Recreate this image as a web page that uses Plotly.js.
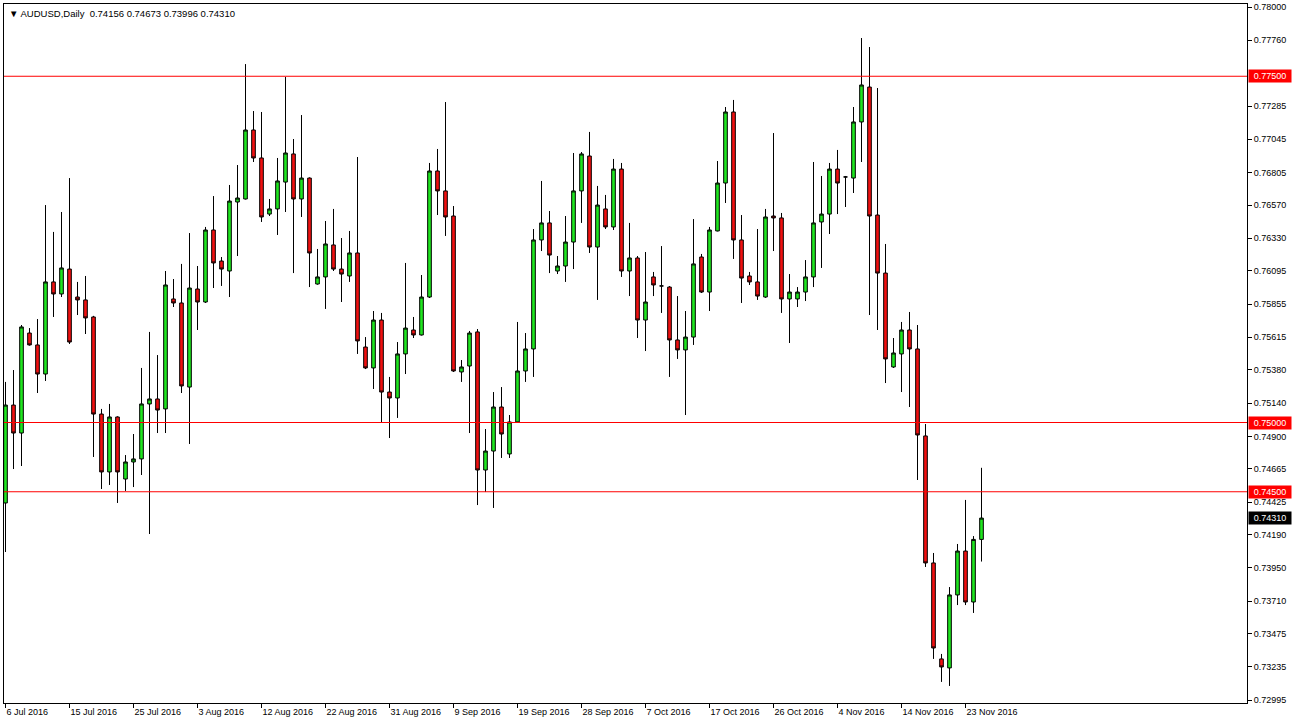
<!DOCTYPE html>
<html>
<head>
<meta charset="utf-8">
<script src="https://cdn.plot.ly/plotly-3.0.1.min.js"></script>
<style>
html,body{margin:0;padding:0;background:#fff;}
#chart{width:1292px;height:726px;}
</style>
</head>
<body>
<div id="chart"></div>
<script>
// AUDUSD Daily OHLC (one bar per trading day incl. Sunday bars), 6 Jul 2016 – 25 Nov 2016
const openP = [
0.74419,0.75126,0.74924,0.75646,0.75560,0.75350,0.76015,0.75928,0.76108,0.75906,
0.75885,0.75762,0.75061,0.74643,0.75040,0.74592,0.74715,0.74737,0.75134,0.75170,
0.75098,0.75892,0.75863,0.75256,0.75964,0.75870,0.76390,0.76166,0.76094,0.76592,
0.76614,0.77112,0.76910,0.76505,0.76542,0.76736,0.76939,0.76614,0.76765,0.76000,
0.76051,0.76282,0.76108,0.76058,0.76224,0.75545,0.75394,0.75740,0.75220,0.75177,
0.75495,0.75668,0.75632,0.75906,0.76816,0.76672,0.76491,0.75365,0.75408,0.75654,
0.74657,0.74794,0.75112,0.74773,0.75004,0.75372,0.75531,0.76318,0.76441,0.76094,
0.76130,0.76303,0.76672,0.76924,0.76267,0.76542,0.76412,0.76830,0.76094,0.76188,
0.75740,0.76051,0.75986,0.75978,0.75596,0.75524,0.75617,0.76195,0.75942,0.76383,
0.76729,0.77242,0.76318,0.76058,0.76015,0.75906,0.76491,0.76477,0.75892,0.75892,
0.75942,0.76051,0.76448,0.76505,0.76830,0.76773,0.76765,0.77170,0.77422,0.76498,
0.76079,0.75401,0.75495,0.75668,0.75531,0.74903,0.73986,0.73293,0.73228,0.73755,
0.74072,0.73704,0.74156];
const highP = [
0.75293,0.75379,0.75704,0.75682,0.75747,0.76570,0.76376,0.76520,0.76765,0.76015,
0.76058,0.75770,0.75098,0.75134,0.75045,0.74765,0.74917,0.75394,0.75654,0.75487,
0.76094,0.76036,0.76145,0.76368,0.76130,0.76412,0.76635,0.76195,0.76715,0.76859,
0.77588,0.77249,0.77242,0.76614,0.76910,0.77495,0.77047,0.77220,0.76770,0.76253,
0.76455,0.76542,0.76332,0.76383,0.76917,0.75617,0.75805,0.75791,0.75329,0.75581,
0.76152,0.75762,0.76065,0.76874,0.76975,0.77314,0.76563,0.75451,0.75661,0.75675,
0.74953,0.75220,0.75256,0.75054,0.75726,0.75646,0.76397,0.76744,0.76527,0.76202,
0.76491,0.76946,0.76953,0.77098,0.76708,0.76643,0.76903,0.76874,0.76441,0.76202,
0.76231,0.76087,0.76274,0.75985,0.75913,0.75805,0.76469,0.76217,0.76412,0.76888,
0.77278,0.77329,0.76498,0.76087,0.76397,0.76542,0.77090,0.76513,0.76072,0.75978,
0.76173,0.76881,0.76780,0.76874,0.76968,0.76780,0.77278,0.77776,0.77711,0.77415,
0.76289,0.75610,0.75726,0.75798,0.75704,0.74989,0.74058,0.73329,0.73812,0.74123,
0.74441,0.74180,0.74673];
const lowP = [
0.74065,0.74664,0.74686,0.75555,0.75213,0.75300,0.75762,0.75906,0.75567,0.75776,
0.75639,0.74751,0.74520,0.74549,0.74419,0.74506,0.74534,0.74621,0.74195,0.74924,
0.74924,0.75834,0.75213,0.74845,0.75668,0.75863,0.75971,0.75986,0.75906,0.76202,
0.76610,0.76881,0.76448,0.76491,0.76354,0.76520,0.76079,0.76484,0.75978,0.75995,
0.75820,0.76094,0.75870,0.76015,0.75495,0.75386,0.75242,0.74997,0.74888,0.75033,
0.75350,0.75610,0.75628,0.75899,0.76498,0.76347,0.75365,0.75293,0.74924,0.74404,
0.74498,0.74383,0.74744,0.74744,0.74999,0.75293,0.75329,0.76238,0.76079,0.76072,
0.76015,0.76108,0.76441,0.76224,0.75885,0.76397,0.76390,0.76051,0.75913,0.75610,
0.75516,0.75913,0.75791,0.75329,0.75459,0.75054,0.75560,0.75935,0.75805,0.76380,
0.76585,0.76181,0.75863,0.75993,0.75885,0.75900,0.76238,0.75791,0.75574,0.75834,
0.75877,0.75978,0.76116,0.76361,0.76505,0.76556,0.76657,0.76881,0.75776,0.75668,
0.75285,0.75394,0.75220,0.75112,0.74585,0.73957,0.73293,0.73127,0.73098,0.73682,
0.73682,0.73625,0.73996];
const closeP = [
0.75126,0.74924,0.75690,0.75560,0.75350,0.76015,0.75928,0.76116,0.75581,0.75885,
0.75755,0.75061,0.74643,0.75040,0.74643,0.74715,0.74737,0.75134,0.75170,0.75090,
0.75993,0.75863,0.75264,0.75971,0.75870,0.76390,0.76152,0.76108,0.76599,0.76621,
0.77112,0.76910,0.76484,0.76542,0.76744,0.76946,0.76614,0.76765,0.76224,0.76051,
0.76289,0.76108,0.76072,0.76224,0.75589,0.75394,0.75740,0.75220,0.75177,0.75495,
0.75682,0.75632,0.75906,0.76816,0.76672,0.76484,0.75372,0.75401,0.75646,0.74657,
0.74794,0.75112,0.74917,0.75004,0.75372,0.75531,0.76318,0.76441,0.76209,0.76130,
0.76303,0.76672,0.76939,0.76267,0.76570,0.76412,0.76830,0.76094,0.76188,0.75740,
0.75870,0.75993,0.75986,0.75596,0.75524,0.75617,0.76145,0.75942,0.76390,0.76729,
0.77242,0.76318,0.76043,0.76015,0.75913,0.76484,0.76477,0.75892,0.75942,0.75942,
0.76051,0.76441,0.76505,0.76830,0.76729,0.76773,0.77170,0.77437,0.76491,0.76079,
0.75459,0.75502,0.75668,0.75531,0.74910,0.73986,0.73372,0.73235,0.73755,0.74072,
0.73704,0.74156,0.74310];

// date labels and the bar each one marks
const labelBars = [0,8,16,24,32,40,48,56,64,72,80,88,96,104,112,120];
const dateLabels = ['6 Jul 2016','15 Jul 2016','25 Jul 2016','3 Aug 2016','12 Aug 2016','22 Aug 2016',
  '31 Aug 2016','9 Sep 2016','19 Sep 2016','28 Sep 2016','7 Oct 2016','17 Oct 2016',
  '26 Oct 2016','4 Nov 2016','14 Nov 2016','23 Nov 2016'];

// price scale labels
const priceTicks = [0.78000,0.77760,0.77285,0.77045,0.76805,0.76570,0.76330,0.76095,0.75855,
  0.75615,0.75380,0.75140,0.74900,0.74665,0.74425,0.74190,0.73950,0.73710,0.73475,0.73235,0.72995];

// horizontal levels and current price
const levels = [0.77500, 0.75000, 0.74500];
const lastPrice = 0.74310;
const header = '▼ AUDUSD,Daily  0.74156 0.74673 0.73996 0.74310';

const xIdx = openP.map((_, i) => i);
const FONT = 'Liberation Sans, Arial, sans-serif';

const trace = {
  type: 'candlestick',
  x: xIdx, open: openP, high: highP, low: lowP, close: closeP,
  increasing: {line: {color: '#000000', width: 1}, fillcolor: '#1fe51f'},
  decreasing: {line: {color: '#000000', width: 1}, fillcolor: '#f01010'},
  whiskerwidth: 0,
  hoverinfo: 'skip',
  showlegend: false
};

const shapes = levels.map(v => ({
  type: 'line', xref: 'paper', x0: 0, x1: 1, yref: 'y', y0: v, y1: v,
  line: {color: '#ff0000', width: 1}, layer: 'above'
}));

const annotations = levels.map(v => ({
  xref: 'paper', x: 1, xanchor: 'left', xshift: 1, yref: 'y', y: v, yanchor: 'middle',
  text: v.toFixed(5), showarrow: false, bgcolor: '#ff0000', borderpad: 1,
  font: {family: FONT, size: 9, color: '#ffffff'}, width: 40, align: 'center'
}));
annotations.push({
  xref: 'paper', x: 1, xanchor: 'left', xshift: 1, yref: 'y', y: lastPrice, yanchor: 'middle',
  text: lastPrice.toFixed(5), showarrow: false, bgcolor: '#000000', borderpad: 1,
  font: {family: FONT, size: 9, color: '#ffffff'}, width: 40, align: 'center'
});
annotations.push({
  xref: 'paper', x: 0, xanchor: 'left', xshift: 3, yref: 'paper', y: 1, yanchor: 'top', yshift: -2,
  text: header, showarrow: false, font: {family: FONT, size: 9.5, color: '#000000'}
});

const layout = {
  width: 1292, height: 726,
  margin: {l: 4, r: 45, t: 4, b: 23},
  paper_bgcolor: '#ffffff', plot_bgcolor: '#ffffff',
  font: {family: FONT, size: 9, color: '#000000'},
  boxgap: 0.35,
  showlegend: false,
  xaxis: {
    range: [-0.1875, 155.1875], fixedrange: true,
    rangeslider: {visible: false},
    tickmode: 'array', tickvals: labelBars, ticktext: dateLabels,
    ticks: 'outside', ticklen: 4, tickcolor: '#000000',
    ticklabelposition: 'outside right',
    tickfont: {family: FONT, size: 9, color: '#000000'},
    showgrid: false, zeroline: false,
    showline: true, linecolor: '#000000', linewidth: 1, mirror: true
  },
  yaxis: {
    side: 'right',
    range: [0.729748, 0.780217], fixedrange: true,
    tickmode: 'array', tickvals: priceTicks, ticktext: priceTicks.map(v => v.toFixed(5)),
    ticks: 'outside', ticklen: 4, tickcolor: '#000000',
    tickfont: {family: FONT, size: 9, color: '#000000'},
    showgrid: false, zeroline: false,
    showline: true, linecolor: '#000000', linewidth: 1, mirror: true
  },
  shapes: shapes,
  annotations: annotations
};

Plotly.newPlot('chart', [trace], layout, {staticPlot: true, displayModeBar: false});
</script>
</body>
</html>
